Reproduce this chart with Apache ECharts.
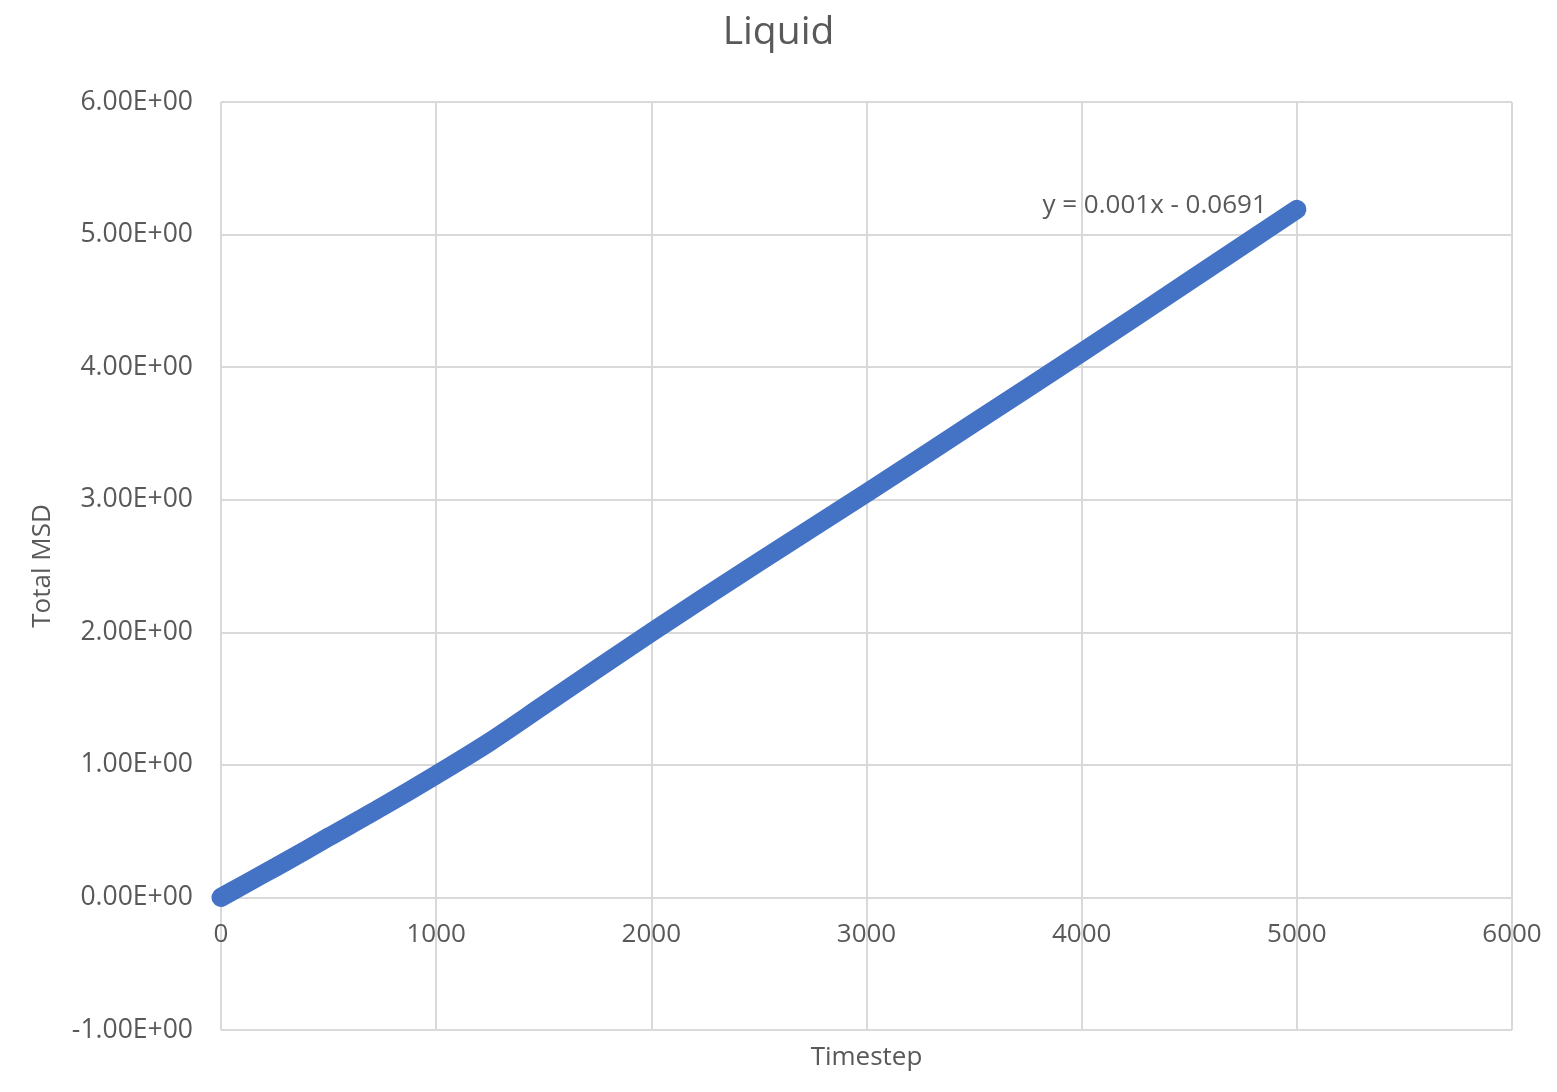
<!DOCTYPE html>
<html>
<head>
<meta charset="utf-8">
<script src="https://cdn.jsdelivr.net/npm/echarts@6/dist/echarts.min.js"></script>
<style>html,body{margin:0;padding:0;background:#fff}#c{width:1557px;height:1092px}</style>
</head>
<body>
<div id="c"></div>
<script>
const timesteps = [0, 100, 200, 300, 500, 750, 1000, 1250, 1500, 2000, 2500, 3000, 3500, 4000, 4500, 5000];
const msd = [0, 0.09, 0.18, 0.27, 0.455, 0.685, 0.925, 1.175, 1.45, 2.00, 2.53, 3.05, 3.58, 4.11, 4.65, 5.19];
const trendLabel = 'y = 0.001x - 0.0691';
const xTicks = {min: 0, max: 6000, interval: 1000};
const yTicks = {min: -1, max: 6, interval: 1};

const FONT = '"Open Sans", "Noto Sans", sans-serif';
const TXT = '#595959';
const GRID = '#d9d9d9';

function sci(v) {
  const s = Number(v).toExponential(2).toUpperCase();
  const m = s.match(/^(-?[\d.]+)E([+-])(\d+)$/);
  return m[1] + 'E' + m[2] + (m[3].length < 2 ? '0' + m[3] : m[3]);
}

const data = timesteps.map((t, i) => {
  const d = {value: [t, msd[i]]};
  if (i === timesteps.length - 1) {
    d.label = {show: true, formatter: trendLabel, position: 'left', distance: 30,
      color: TXT, fontSize: 26, fontFamily: FONT, offset: [0, -4]};
  }
  return d;
});

const chart = echarts.init(document.getElementById('c'));
chart.setOption({
  animation: false,
  backgroundColor: '#fff',
  title: {
    text: 'Liquid', left: 'center', top: 8,
    textStyle: {color: TXT, fontSize: 39, fontWeight: 'normal', fontFamily: FONT}
  },
  grid: {left: 221, right: 45, top: 102, bottom: 62, containLabel: false, outerBoundsMode: 'none'},
  xAxis: {
    type: 'value', min: xTicks.min, max: xTicks.max, interval: xTicks.interval,
    name: 'Timestep', nameLocation: 'middle', nameGap: 147,
    nameTextStyle: {color: TXT, fontSize: 26, fontFamily: FONT},
    axisLine: {show: true, onZero: true, lineStyle: {color: GRID, width: 2}},
    axisTick: {show: false},
    axisLabel: {color: TXT, fontSize: 26, fontFamily: FONT, margin: 24, formatter: v => String(v)},
    splitLine: {show: true, lineStyle: {color: GRID, width: 2}}
  },
  yAxis: {
    type: 'value', min: yTicks.min, max: yTicks.max, interval: yTicks.interval,
    name: 'Total MSD', nameLocation: 'middle', nameGap: 165, nameRotate: 90,
    nameTextStyle: {color: TXT, fontSize: 26, fontFamily: FONT},
    axisLine: {show: false, onZero: false},
    axisTick: {show: false},
    axisLabel: {color: TXT, fontSize: 26.5, fontFamily: FONT, margin: 28, formatter: sci},
    splitLine: {show: true, lineStyle: {color: GRID, width: 2}}
  },
  series: [{
    type: 'line',
    data: data,
    showSymbol: true,
    symbol: 'circle',
    symbolSize: 0.1,
    clip: false,
    smooth: 0.3,
    lineStyle: {color: '#4472c4', width: 19, cap: 'round', join: 'round'},
    itemStyle: {color: '#4472c4'},
    label: {show: false}
  }]
});

// Place the x axis on y = 0 (as in the reference) using the library's own y scale.
const zeroY = chart.convertToPixel({yAxisIndex: 0}, 0);
const bottomY = chart.convertToPixel({yAxisIndex: 0}, yTicks.min);
if (Math.abs(bottomY - zeroY) > 0.5) {
  chart.setOption({xAxis: {offset: zeroY - bottomY}});
}
</script>
</body>
</html>
